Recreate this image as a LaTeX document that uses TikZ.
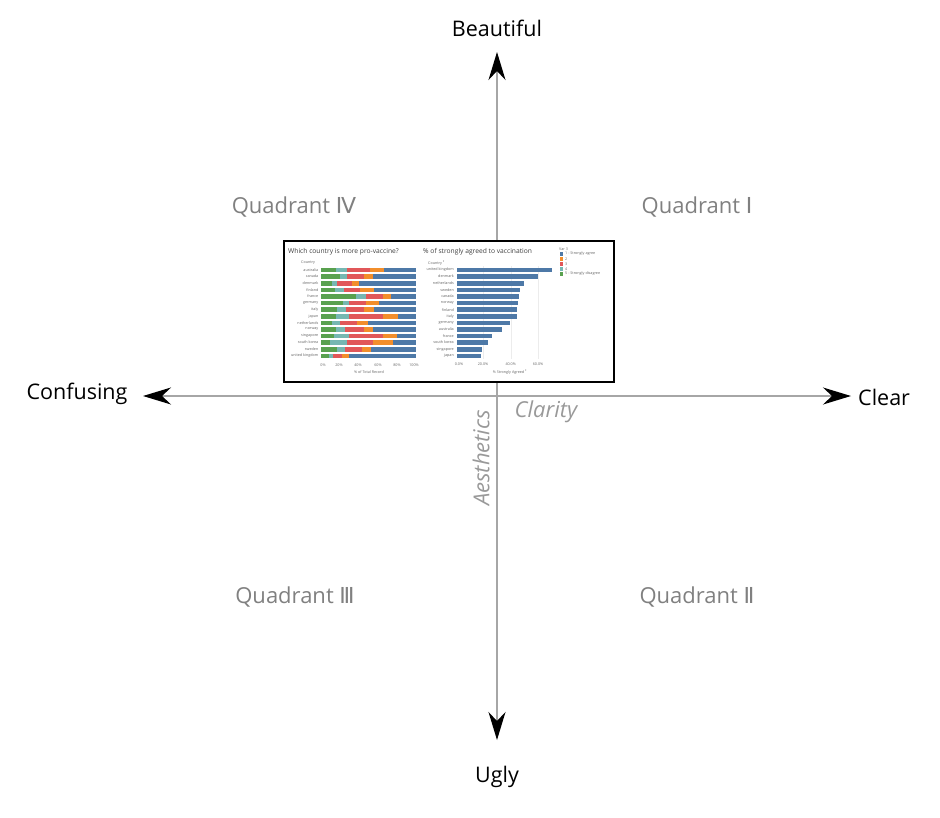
\documentclass[tikz,border=0pt]{standalone}
\usepackage{fontspec}
\setmainfont{Open Sans}
\newfontfamily\dv{DejaVu Sans}
\usetikzlibrary{arrows.meta}
\definecolor{tbblue}{HTML}{4E79A7}
\definecolor{tborange}{HTML}{F28E2B}
\definecolor{tbred}{HTML}{E15759}
\definecolor{tbteal}{HTML}{76B7B2}
\definecolor{tbgreen}{HTML}{59A14F}
\definecolor{qgray}{HTML}{808080}
\tikzset{
  axis/.style={draw=gray!70, line width=1.6pt, -{Stealth[length=28pt,width=17pt,inset=9pt,color=black]}},
  mainlbl/.style={font=\fontsize{21.5}{25}\selectfont, text=black, inner sep=0pt},
  quadlbl/.style={font=\fontsize{22}{26}\selectfont, text=qgray, inner sep=0pt},
  axislbl/.style={font=\fontsize{22}{26}\selectfont\itshape, text=gray!80, inner sep=0pt},
  tiny/.style={font=\fontsize{3.7}{4.2}\selectfont, text=gray!80!black, inner sep=0pt},
  ctitle/.style={font=\fontsize{6.7}{7.5}\selectfont, text=black!75, inner sep=0pt, anchor=west},
}
\begin{document}
\begin{tikzpicture}[x=1pt,y=-1pt]
\useasboundingbox (0,0) rectangle (940,817);
% axes
\coordinate (c) at (497,396);
\coordinate (top) at (497,52);
\coordinate (bot) at (497,740);
\coordinate (lft) at (143,396);
\coordinate (rgt) at (851,396);
\draw[axis] (c) -- (top);
\draw[axis] (c) -- (bot);
\draw[axis] (c) -- (lft);
\draw[axis] (c) -- (rgt);
% labels
\node[mainlbl] (beautiful) at (497,28) {Beautiful};
\node[mainlbl] (ugly) at (497,777) {Ugly};
\node[mainlbl] (confusing) at (77,394) {Confusing};
\node[mainlbl, anchor=west] (clear) at (858,397) {Clear};
\node[quadlbl] (q4) at (294,207) {Quadrant {\dv Ⅳ}};
\node[quadlbl] (q1) at (697,207) {Quadrant {\dv Ⅰ}};
\node[quadlbl] (q3) at (295,597) {Quadrant {\dv Ⅲ}};
\node[quadlbl] (q2) at (697,597) {Quadrant {\dv Ⅱ}};
\node[axislbl] (clarity) at (546,412) {Clarity};
\node[axislbl, rotate=90] (aesth) at (481,458) {Aesthetics};
% chart box
\node[draw=black, line width=1.6pt, fill=white, minimum width=330pt, minimum height=141pt, inner sep=0pt, anchor=north west] (chart) at (283,240) {};
% left chart
\node[ctitle] (t1) at (288,252) {Which country is more pro-vaccine?};
\node[tiny, anchor=west] (h1) at (301,263) {Country};
\foreach \a/\b/\c/\d/\n [count=\i from 0] in {
 0.16/0.28/0.52/0.66/australia,
 0.20/0.28/0.45/0.55/canada,
 0.12/0.17/0.33/0.40/denmark,
 0.15/0.24/0.41/0.56/finland,
 0.37/0.48/0.65/0.74/france,
 0.23/0.30/0.48/0.61/germany,
 0.17/0.27/0.45/0.56/italy,
 0.16/0.30/0.65/0.81/japan,
 0.12/0.20/0.38/0.50/netherlands,
 0.16/0.26/0.45/0.55/norway,
 0.14/0.30/0.65/0.80/singapore,
 0.10/0.28/0.55/0.76/south korea,
 0.17/0.26/0.43/0.53/sweden,
 0.09/0.13/0.22/0.30/united kingdom}{
  \pgfmathsetmacro{\yy}{270+6.6*\i}
  \pgfmathsetmacro{\xa}{320.7+95.3*\a}
  \pgfmathsetmacro{\xb}{320.7+95.3*\b}
  \pgfmathsetmacro{\xc}{320.7+95.3*\c}
  \pgfmathsetmacro{\xd}{320.7+95.3*\d}
  \fill[tbgreen] (320.7,\yy-2.3) rectangle (\xa,\yy+2.3);
  \fill[tbteal] (\xa,\yy-2.3) rectangle (\xb,\yy+2.3);
  \fill[tbred] (\xb,\yy-2.3) rectangle (\xc,\yy+2.3);
  \fill[tborange] (\xc,\yy-2.3) rectangle (\xd,\yy+2.3);
  \fill[tbblue] (\xd,\yy-2.3) rectangle (416,\yy+2.3);
  \node[tiny, anchor=east] at (318.5,\yy) {\n};
}
\foreach \x/\t in {323/0\%,339/20\%,358/40\%,378/60\%,397/80\%,414/100\%}
  \node[tiny] at (\x,365) {\t};
\node[tiny] (xl1) at (369,372.5) {\% of Total Record};
% right chart
\node[ctitle] (t2) at (423,252) {\% of strongly agreed to vaccination};
\node[tiny, anchor=west] (h2) at (428,263) {Country \textsuperscript{F}};
\foreach \x in {483,510.7,538}
  \draw[gray!15, line width=0.3pt] (\x,266) -- (\x,359);
\foreach \e/\n [count=\i from 0] in {
 551.7/united kingdom, 538/denmark, 524/netherlands, 520/sweden,
 518.7/canada, 518.3/norway, 517.3/finland, 517.3/italy,
 510/germany, 502/australia, 492/france, 488.3/south korea,
 482/singapore, 480.7/japan}{
  \pgfmathsetmacro{\yy}{270+6.6*\i}
  \fill[tbblue] (456.7,\yy-2.3) rectangle (\e,\yy+2.3);
  \node[tiny, anchor=east] at (454,\yy) {\n};
}
\foreach \x/\t in {459/0.0\%,483/20.0\%,510.7/40.0\%,538/60.0\%}
  \node[tiny] at (\x,364) {\t};
\node[tiny] (xl2) at (510,372.5) {\% Strongly Agreed \textsuperscript{F}};
% legend
\node[tiny, anchor=west] (lg) at (559,249) {Var 3};
\foreach \col/\t [count=\i from 0] in {tbblue/1 - Strongly agree, tborange/2, tbred/3, tbteal/4, tbgreen/5 - Strongly disagree}{
  \pgfmathsetmacro{\yy}{254+5*\i}
  \fill[\col] (560,\yy-1.7) rectangle (563.4,\yy+1.7);
  \node[tiny, anchor=west] at (565,\yy) {\t};
}
\end{tikzpicture}
\end{document}
